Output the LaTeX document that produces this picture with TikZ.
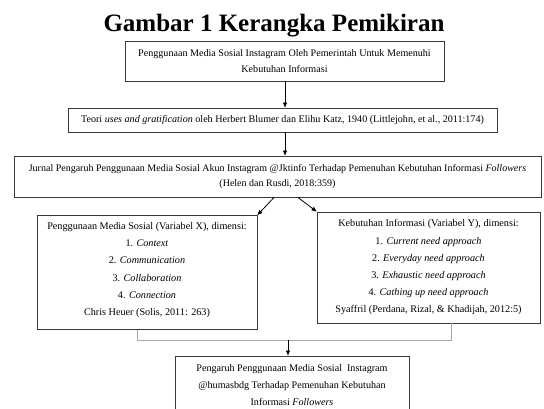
\documentclass[tikz,border=0pt]{standalone}
\usepackage{fontspec}
\setmainfont{Liberation Serif}
\usetikzlibrary{arrows.meta}
\definecolor{boxgray}{HTML}{3A3A3A}
\definecolor{brgray}{HTML}{A8A8A8}
\begin{document}
\begin{tikzpicture}[x=1pt,y=-1pt,
  box/.style={draw=boxgray, line width=0.9pt, align=center, inner sep=0pt},
  txt/.style={anchor=north, align=center, inner sep=0pt},
  arr/.style={-{Triangle[length=5pt,width=4pt]}, line width=0.8pt, black},
  bracket/.style={draw=brgray, line width=0.8pt}
]
\useasboundingbox (0,0) rectangle (544,409);
\node[anchor=base, font=\fontsize{25}{28}\selectfont\bfseries] (title) at (274,32) {Gambar 1 Kerangka Pemikiran};
\node[box, minimum width=319pt, minimum height=40pt, font=\fontsize{10.1}{16}\selectfont] (b1) at (284.5,61)
  {Penggunaan Media Sosial Instagram Oleh Pemerintah Untuk Memenuhi\\Kebutuhan Informasi};
\node[box, minimum width=429pt, minimum height=24pt, font=\fontsize{10.1}{16}\selectfont] (b2) at (282.5,120)
  {Teori \textit{uses and gratification} oleh Herbert Blumer dan Elihu Katz, 1940 (Littlejohn, et al., 2011:174)};
\node[box, minimum width=527pt, minimum height=41pt, font=\fontsize{10}{15}\selectfont] (b3) at (277.5,176.5)
  {Jurnal Pengaruh Penggunaan Media Sosial Akun Instagram @Jktinfo Terhadap Pemenuhan Kebutuhan Informasi \textit{Followers}\\(Helen dan Rusdi, 2018:359)};
\node[box, minimum width=220pt, minimum height=114pt] (vx) at (147,272.5) {};
\node[txt, font=\fontsize{10.2}{17.3}\selectfont] (vxt) at ([yshift=-7pt]vx.north)
  {Penggunaan Media Sosial (Variabel X), dimensi:\\1. \textit{Context}\\2. \textit{Communication}\\3. \textit{Collaboration}\\4. \textit{Connection}\\Chris Heuer (Solis, 2011: 263)};
\node[box, minimum width=223pt, minimum height=111pt] (vy) at (428.5,267.5) {};
\node[txt, font=\fontsize{10.2}{17.1}\selectfont] (vyt) at ([yshift=-8pt]vy.north)
  {Kebutuhan Informasi (Variabel Y), dimensi:\\1. \textit{Current need approach}\\2. \textit{Everyday need approach}\\3. \textit{Exhaustic need approach}\\4. \textit{Cathing up need approach}\\Syaffril (Perdana, Rizal, \& Khadijah, 2012:5)};
\node[box, minimum width=234pt, minimum height=56pt] (b4) at (292,384) {};
\node[txt, font=\fontsize{10.1}{17}\selectfont] (b4t) at ([yshift=-9pt]b4.north)
  {Pengaruh Penggunaan Media Sosial\ \ Instagram\\@humasbdg Terhadap Pemenuhan Kebutuhan\\Informasi \textit{Followers}};
\coordinate (a1) at (285,0);
\draw[arr] (b1.south -| a1) -- (b2.north -| a1);
\draw[arr] (b2.south -| a1) -- (b3.north -| a1);
\draw[arr] ([xshift=-3.5pt]b3.south) -- (vx.north east);
\draw[arr] ([xshift=20.5pt]b3.south) -- (vy.north west);
\coordinate (bl) at (137.5,340);
\coordinate (br) at (451.5,340);
\coordinate (bm) at (288,340);
\draw[bracket] (vx.south -| bl) -- (bl) -- (br) -- (vy.south -| br);
\draw[arr] (bm) -- (b4.north -| bm);
\end{tikzpicture}
\end{document}
